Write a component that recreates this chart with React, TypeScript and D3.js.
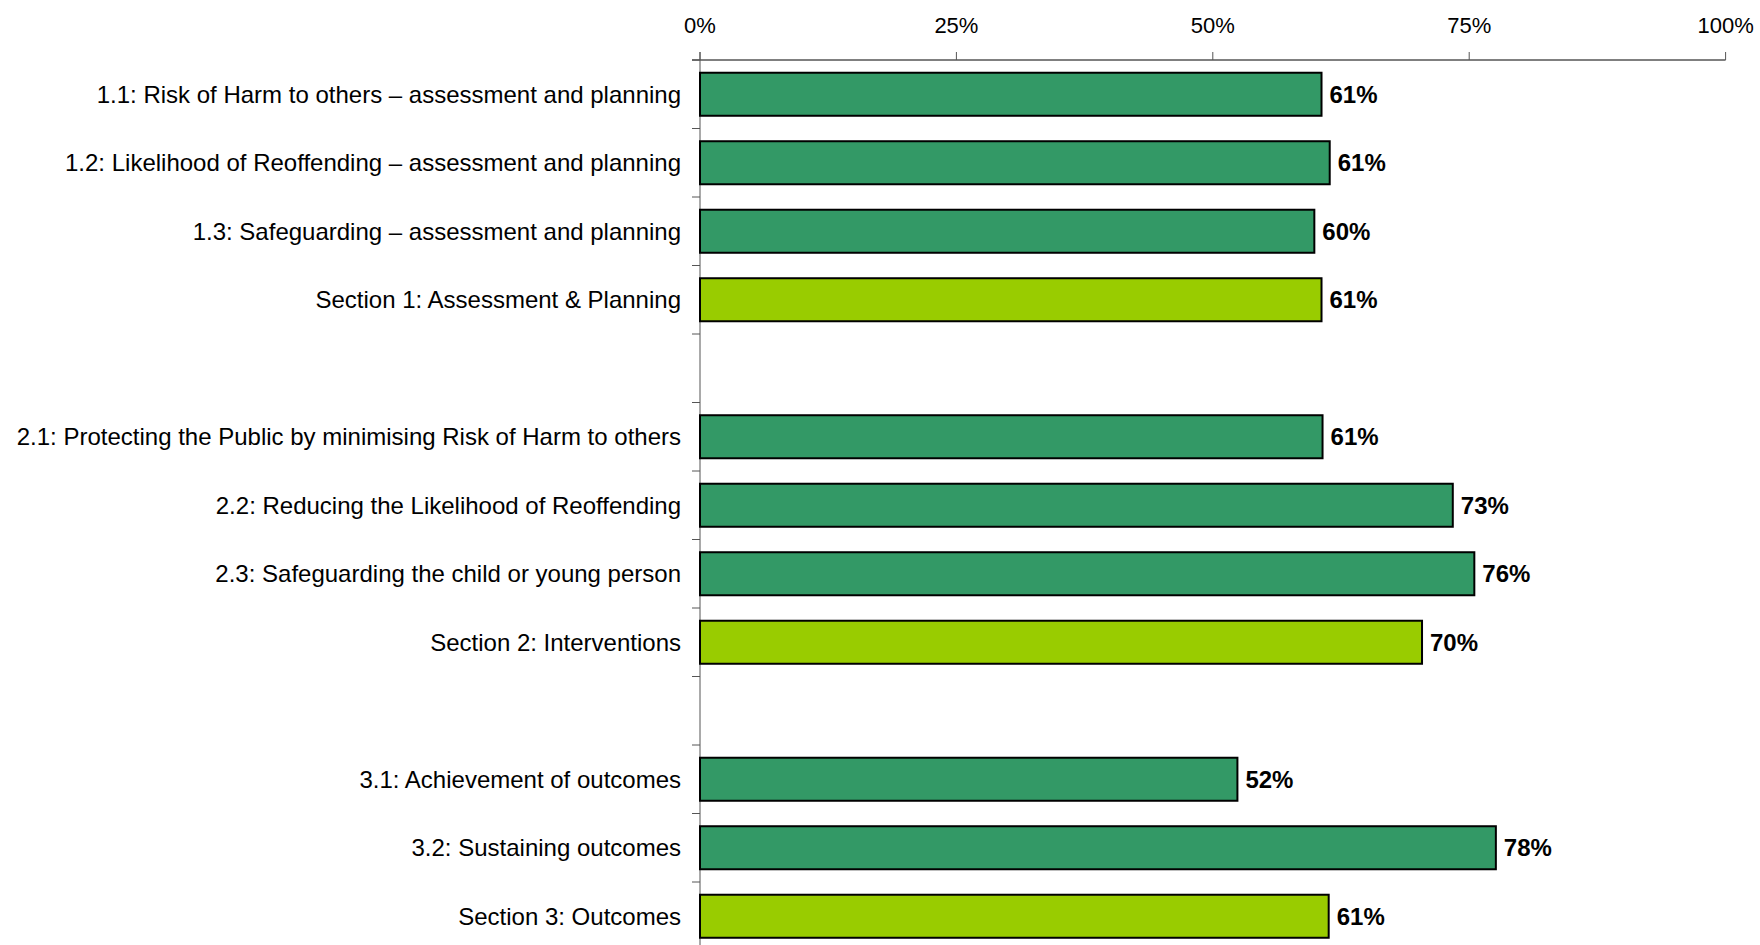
import React from "react";
import * as d3 from "d3";

const categories: string[] = [
  "1.1: Risk of Harm to others \u2013 assessment and planning",
  "1.2: Likelihood of Reoffending \u2013 assessment and planning",
  "1.3: Safeguarding \u2013 assessment and planning",
  "Section 1: Assessment & Planning",
  "",
  "2.1: Protecting the Public by minimising Risk of Harm to others",
  "2.2: Reducing the Likelihood of Reoffending",
  "2.3: Safeguarding the child or young person",
  "Section 2: Interventions",
  "",
  "3.1: Achievement of outcomes",
  "3.2: Sustaining outcomes",
  "Section 3: Outcomes",
];

const values: (number | null)[] = [60.6, 61.4, 59.9, 60.6, null, 60.7, 73.4, 75.5, 70.4, null, 52.4, 77.6, 61.3];

const kinds: string[] = ["item", "item", "item", "section", "", "item", "item", "item", "section", "", "item", "item", "section"];

const xTicks: number[] = [0, 25, 50, 75, 100];

const COLORS: Record<string, string> = { item: "#339966", section: "#99CC00" };
const FONT = "'Liberation Sans', Arial, sans-serif";

export default function App() {
  const width = 1760;
  const height = 945;
  const left = 700;
  const right = 1725.6;
  const top = 60;
  const bottom = 950.5;

  const x = d3.scaleLinear().domain([0, 100]).range([left, right]);
  const y = d3
    .scaleBand<number>()
    .domain(categories.map((_, i) => i))
    .range([top, bottom])
    .paddingInner(0.372)
    .paddingOuter(0.186);
  const step = y.step();
  const boundaries = d3.range(categories.length + 1).map((k) => top + k * step);

  return (
    <svg
      width={width}
      height={height}
      style={{ position: "absolute", left: 0, top: 0, background: "#fff" }}
      fontFamily={FONT}
    >
      {/* top axis */}
      <line x1={left - 8} x2={right} y1={top} y2={top} stroke="#000" strokeWidth={1} />
      {xTicks.map((t) => (
        <g key={t}>
          <line x1={x(t)} x2={x(t)} y1={top - 8} y2={top} stroke="#555" strokeWidth={1} />
          <text x={x(t)} y={33} textAnchor="middle" fontSize={22} fill="#000">
            {t}%
          </text>
        </g>
      ))}
      {/* category axis */}
      <line x1={left} x2={left} y1={top - 8} y2={bottom} stroke="#555" strokeWidth={1} />
      {boundaries.map((b, k) => (
        <line key={k} x1={left - 8} x2={left} y1={b} y2={b} stroke="#555" strokeWidth={1} />
      ))}
      {categories.map((c, i) =>
        c ? (
          <text
            key={i}
            x={681}
            y={(y(i) as number) + y.bandwidth() / 2}
            dy="0.35em"
            textAnchor="end"
            fontSize={24}
            fill="#000"
          >
            {c}
          </text>
        ) : null
      )}
      {values.map((v, i) =>
        v == null ? null : (
          <g key={i}>
            <rect
              x={x(0)}
              y={y(i) as number}
              width={x(v) - x(0)}
              height={y.bandwidth()}
              fill={COLORS[kinds[i]]}
              stroke="#000"
              strokeWidth={2}
            />
            <text
              x={x(v) + 8}
              y={(y(i) as number) + y.bandwidth() / 2}
              dy="0.35em"
              fontSize={24}
              fontWeight="bold"
              fill="#000"
            >
              {Math.round(v)}%
            </text>
          </g>
        )
      )}
    </svg>
  );
}
